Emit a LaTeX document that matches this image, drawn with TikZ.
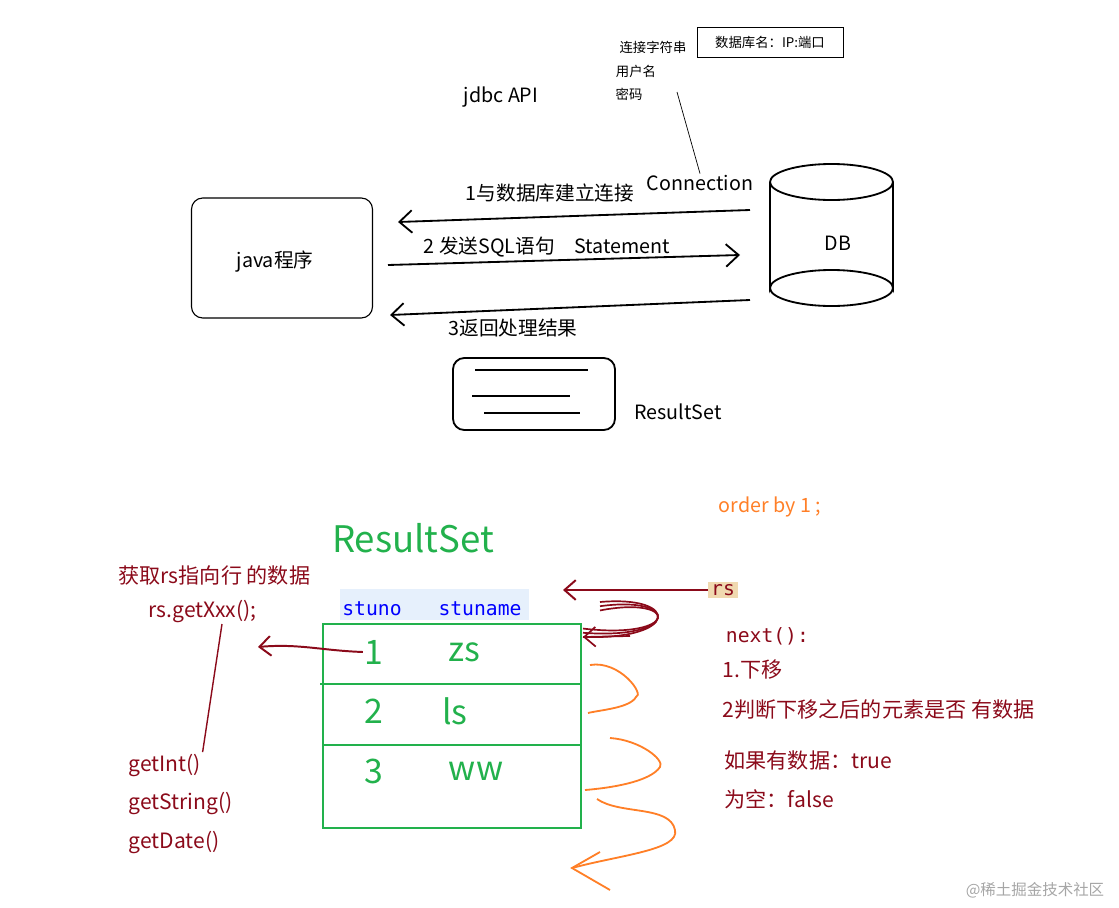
\documentclass[tikz,border=0pt]{standalone}
\usepackage{fontspec}
\setmainfont{Noto Sans CJK SC}
\setmonofont{DejaVu Sans Mono}
\usetikzlibrary{arrows.meta}
\definecolor{darkred}{HTML}{8B0A1A}
\definecolor{okgreen}{HTML}{22B14C}
\definecolor{orangeline}{HTML}{FF7F27}
\definecolor{headblue}{HTML}{E6F0FC}
\definecolor{rsbg}{HTML}{F0D9B0}
\tikzset{
  handarrow/.style={-{Straight Barb[length=9pt,width=16pt]}, line width=1.3pt},
  redarrow/.style={-{Straight Barb[length=8pt,width=14pt]}, line width=1.4pt, darkred},
  orange/.style={orangeline, line width=1.3pt},
  lbl/.style={font=\fontsize{14}{16}\selectfont, inner sep=1pt},
  small/.style={font=\fontsize{9.5}{11}\selectfont, inner sep=1pt},
  redtext/.style={font=\fontsize{15}{17}\selectfont, darkred, inner sep=1pt, anchor=west},
  green/.style={font=\fontsize{24}{28}\selectfont, okgreen, inner sep=1pt},
}
\begin{document}
\begin{tikzpicture}[x=0.025cm, y=-0.025cm]
  \useasboundingbox (0,0) rectangle (1119,908);

  % upper part
  \node[lbl] (api) at (501,97) {jdbc API};
  \node[draw, rounded corners=8pt, minimum width=181*0.025cm, minimum height=120*0.025cm, line width=0.8pt] (java) at (282,258) {};
  \node[lbl] at (275,262) {java程序};
  % database cylinder
  \draw[line width=1.3pt] (770,182) arc[start angle=180, end angle=-180, x radius=61.5, y radius=18]
    (770,182) -- (770,288) arc[start angle=180, end angle=360, x radius=61.5, y radius=18] -- (893,182);
  \draw[line width=1.3pt] (770,288) arc[start angle=180, end angle=0, x radius=61.5, y radius=18];
  \node[lbl] (db) at (838,243) {DB};

  \coordinate (a1s) at (750,210); \coordinate (a1e) at (398,222);
  \coordinate (a2s) at (388,265); \coordinate (a2e) at (740,255);
  \coordinate (a3s) at (750,300); \coordinate (a3e) at (390,315);
  \draw[handarrow] (a1s) -- (a1e);
  \draw[handarrow] (a2s) -- (a2e);
  \draw[handarrow] (a3s) -- (a3e);
  \node[lbl] (step1) at (550,193) {1与数据库建立连接};
  \node[lbl] (conn) at (700,183) {Connection};
  \node[lbl] (step2) at (547,247) {2 发送SQL语句\quad Statement};
  \node[lbl] (step3) at (513,328) {3返回处理结果};

  % connection string notes
  \node[draw, small, minimum width=146*0.025cm, minimum height=30*0.025cm, line width=0.7pt] (dbname) at (770,42) {数据库名：IP:端口};
  \node[small] (connstr) at (653,47) {连接字符串};
  \node[small] (user) at (636,71) {用户名};
  \node[small] (pwd) at (629,94) {密码};
  \coordinate (ln1) at (677,92);
  \draw[line width=0.5pt] (ln1) -- (conn.north);

  % result set icon
  \node[draw, rounded corners=8pt, minimum width=162*0.025cm, minimum height=72*0.025cm, line width=1.3pt] (icon) at (534,394) {};
  \foreach \ya/\xa/\xb in {370/475/588, 396/472/570, 413/484/580}
    \draw[line width=1.8pt] (\xa,\ya) -- (\xb,\ya);
  \node[lbl] (rsicon) at (678,412) {ResultSet};

  % lower part
  \node[font=\fontsize{14}{16}\selectfont, orangeline] (order) at (770,507) {order by 1 ;};
  \node[okgreen, font=\fontsize{26}{30}\selectfont] (rstitle) at (413,538) {ResultSet};
  \node[redtext] (fetch) at (117,575) {获取rs指向行 的数据};
  \node[redtext] (getx) at (147,612) {rs.getXxx();};

  \fill[headblue] (340,589) rectangle (529,620);
  \node[font=\ttfamily\fontsize{14}{16}\selectfont, blue] (h1) at (372,609) {stuno};
  \node[font=\ttfamily\fontsize{14}{16}\selectfont, blue] (h2) at (480,609) {stuname};

  \draw[okgreen, line width=1.5pt] (323,624) rectangle (581,828);
  \draw[okgreen, line width=1.5pt] (320,684) -- (581,684) (323,745) -- (581,745);
  \node[green] (r1) at (374,652) {1};  \node[green] (n1) at (464,652) {zs};
  \node[green] (r2) at (374,711) {2};  \node[green] (n2) at (455,711) {ls};
  \node[green] (r3) at (374,771) {3};  \node[green] (n3) at (476,771) {ww};

  \coordinate (getend) at (258,647);
  \draw[redarrow] (r1.west) to[out=178, in=5] (getend);
  \node[redtext] (gi) at (127,765) {getInt()};
  \node[redtext] (gs) at (127,803) {getString()};
  \node[redtext] (gd) at (127,842) {getDate()};
  \coordinate (lnx) at (222,624);
  \draw[darkred, line width=1pt] (lnx) -- (gi.north east);

  \node[font=\ttfamily\fontsize{14}{16}\selectfont, darkred, fill=rsbg, inner sep=2pt] (rs) at (723,590) {rs};
  \coordinate (rsend) at (563,590);
  \draw[redarrow] (rs.west) -- (rsend);
  \coordinate (curl1) at (600,602); \coordinate (curl2) at (583,637);
  \foreach \d in {0,3,6}
    \draw[darkred, line width=1.2pt] ([yshift=-\d]curl1) .. controls (680,595) and (680,640) .. ([yshift=\d]curl2);
  \draw[redarrow, line width=1.2pt] (630,636) -- (curl2);

  \node[font=\ttfamily\fontsize{14}{16}\selectfont, darkred, anchor=west] (next) at (721,636) {next():};
  \node[redtext] (down) at (721,670) {1.下移};
  \node[redtext] (judge) at (721,709) {2判断下移之后的元素是否 有数据};
  \node[redtext] (true) at (723,760) {如果有数据：true};
  \node[redtext] (false) at (723,799) {为空：false};

  % next() steps
  \draw[orange] (590,665) .. controls (620,660) and (645,695) .. (636,697) .. controls (630,708) and (600,710) .. (588,713);
  \draw[orange] (610,738) .. controls (640,740) and (665,760) .. (660,767) .. controls (650,782) and (610,788) .. (585,790);
  \draw[orange] (597,799) .. controls (620,815) and (670,805) .. (675,830) .. controls (680,850) and (620,855) .. (572,868);
  \draw[orange] (600,852) -- (572,868) -- (610,890);

  \node[font=\fontsize{11}{13}\selectfont, gray!70] (mark) at (1035,890) {@稀土掘金技术社区};
\end{tikzpicture}
\end{document}
